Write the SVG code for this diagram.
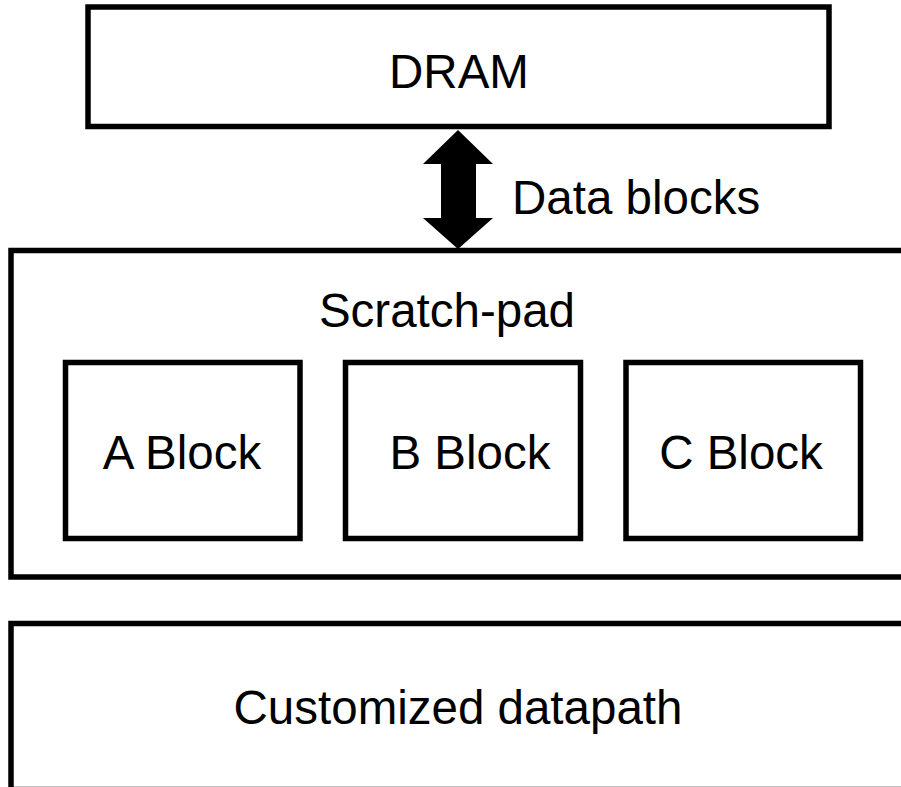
<svg xmlns="http://www.w3.org/2000/svg" width="901" height="787" viewBox="0 0 901 787">
<style>
.box{fill:#fff;stroke:#000;stroke-width:5.5}
.t{font-family:"Liberation Sans",Arial,sans-serif;font-size:47.5px;fill:#000}
.c{text-anchor:middle}
</style>
<rect width="901" height="787" fill="#fff"/>
<g id="dram"><rect class="box" x="88" y="7" width="741" height="119.5"/><text class="t c" x="459" y="88">DRAM</text></g>
<g id="scratchpad"><rect class="box" x="11" y="250.5" width="900" height="326.5"/><text class="t c" x="447" y="327">Scratch-pad</text></g>
<g id="a-block"><rect class="box" x="65.5" y="362.5" width="234.5" height="176"/><text class="t c" x="182" y="469">A Block</text></g>
<g id="b-block"><rect class="box" x="345.5" y="362.5" width="235" height="176"/><text class="t c" x="470" y="469">B Block</text></g>
<g id="c-block"><rect class="box" x="626" y="362.5" width="234.5" height="176"/><text class="t c" x="741" y="469">C Block</text></g>
<g id="datapath"><rect class="box" x="11" y="623.5" width="900" height="166"/><text class="t c" x="458" y="724">Customized datapath</text></g>
<g id="connectors">
<polygon points="458,130 493,164 476,164 476,218 493,218 458,249 423,218 441,218 441,164 423,164" fill="#000"/>
<text class="t" x="512" y="214">Data blocks</text>
</g>
</svg>
